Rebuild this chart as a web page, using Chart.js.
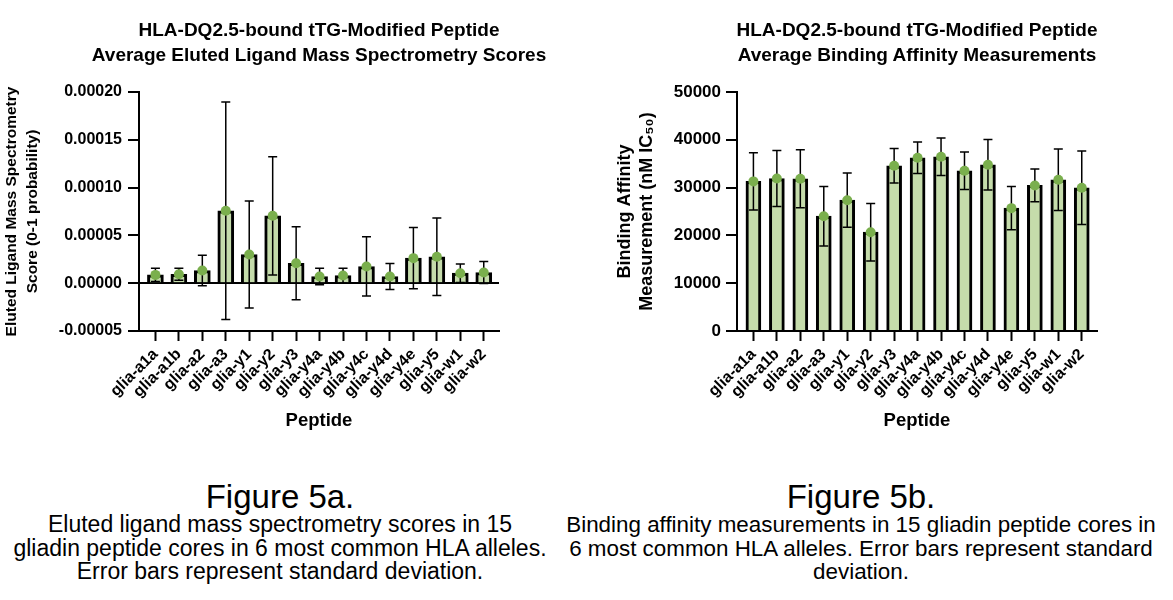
<!DOCTYPE html>
<html>
<head>
<meta charset="utf-8">
<script src="https://cdn.jsdelivr.net/npm/chart.js@4.4.1/dist/chart.umd.min.js"></script>
<style>
  body { margin: 0; background: #fff; overflow: hidden; }
  #wrap { position: relative; width: 1173px; height: 600px; overflow: hidden; font-family: 'Liberation Sans', Arial, sans-serif; color: #000; }
  canvas { position: absolute; top: 0; }
  .tit { position: absolute; top: 17px; width: 600px; text-align: center; font-size: 19px; font-weight: bold; line-height: 25px; white-space: nowrap; }
  .fig { position: absolute; top: 480px; text-align: center; font-size: 33px; line-height: 34px; white-space: nowrap; }
  .cap { position: absolute; top: 513px; text-align: center; line-height: 23.5px; white-space: nowrap; }
</style>
</head>
<body>
<div id="wrap">
  <canvas id="elmsChart" width="600" height="445" style="left:0"></canvas>
  <canvas id="baChart" width="573" height="445" style="left:600px"></canvas>
  <div class="tit" style="left:19px">HLA-DQ2.5-bound tTG-Modified Peptide<br>Average Eluted Ligand Mass Spectrometry Scores</div>
  <div class="tit" style="left:617px">HLA-DQ2.5-bound tTG-Modified Peptide<br>Average Binding Affinity Measurements</div>
  <div class="fig" style="left:0;width:560px">Figure 5a.</div>
  <div class="cap" style="left:0;width:560px;font-size:23px">Eluted ligand mass spectrometry scores in 15<br>gliadin peptide cores in 6 most common HLA alleles.<br>Error bars represent standard deviation.</div>
  <div class="fig" style="left:561px;width:600px">Figure 5b.</div>
  <div class="cap" style="left:561px;width:600px;font-size:22.4px">Binding affinity measurements in 15 gliadin peptide cores in<br>6 most common HLA alleles. Error bars represent standard<br>deviation.</div>
</div>
<script>
const PEPTIDOS = ['glia-a1a', 'glia-a1b', 'glia-a2', 'glia-a3', 'glia-y1', 'glia-y2', 'glia-y3',
  'glia-y4a', 'glia-y4b', 'glia-y4c', 'glia-y4d', 'glia-y4e', 'glia-y5', 'glia-w1', 'glia-w2'];

// Figure 5a: eluted ligand MS score (media y desviación estándar)
const ELMS_MEDIA = [0.0000087, 0.0000094, 0.0000133, 0.0000757, 0.0000300, 0.0000705, 0.0000209,
  0.0000070, 0.0000080, 0.0000175, 0.0000070, 0.0000262, 0.0000276, 0.0000105, 0.0000112];
const ELMS_DE = [0.0000070, 0.0000063, 0.0000160, 0.0001138, 0.0000559, 0.0000618, 0.0000381,
  0.0000087, 0.0000077, 0.0000310, 0.0000136, 0.0000321, 0.0000405, 0.0000097, 0.0000115];

// Figure 5b: binding affinity (nM IC50)
const BA_MEDIA = [31300, 31900, 31840, 24020, 27370, 20670, 34570,
  36240, 36450, 33520, 34780, 25700, 30450, 31630, 29960];
const BA_DE = [6000, 5870, 6080, 6220, 5660, 6010, 3630,
  3280, 3910, 3910, 5300, 4540, 3420, 6430, 7680];

const FUENTE = "'Liberation Sans', Arial, sans-serif";
const VERDE_BARRA = '#c5dcab';
const VERDE_PUNTO = '#7aaf4d';

// barras de error (media ± DE), dibujadas sobre las barras y bajo los puntos
const barrasError = {
  id: 'barrasError',
  afterDatasetDraw(chart, args, opts) {
    if (args.index !== 0) return;
    const ctx = chart.ctx;
    const y = chart.scales.y;
    ctx.save();
    ctx.strokeStyle = '#000';
    ctx.lineWidth = 1.5;
    args.meta.data.forEach((barra, i) => {
      const m = chart.data.datasets[0].data[i].y;
      const arriba = y.getPixelForValue(m + opts.de[i]);
      const abajo = y.getPixelForValue(m - opts.de[i]);
      const x = barra.x;
      ctx.beginPath();
      ctx.moveTo(x, arriba); ctx.lineTo(x, abajo);
      ctx.moveTo(x - 4.5, arriba); ctx.lineTo(x + 4.5, arriba);
      ctx.moveTo(x - 4.5, abajo); ctx.lineTo(x + 4.5, abajo);
      ctx.stroke();
    });
    ctx.restore();
  }
};

function generarConfiguracion(cfg) {
  const puntos = cfg.media.map((v, i) => ({ x: i, y: v }));
  return {
    type: 'bar',
    data: {
      datasets: [
        {
          data: puntos,
          backgroundColor: VERDE_BARRA,
          borderColor: '#000',
          borderWidth: 3,
          barThickness: cfg.grosor,
          order: 1
        },
        {
          type: 'line',
          data: puntos,
          showLine: false,
          pointRadius: 5,
          pointBackgroundColor: VERDE_PUNTO,
          pointBorderWidth: 0,
          order: 0
        }
      ]
    },
    options: {
      responsive: false,
      animation: false,
      layout: { padding: { top: 92, left: 0, right: cfg.derecha, bottom: 0 } },
      plugins: {
        legend: { display: false },
        tooltip: { enabled: false },
        barrasError: { de: cfg.de }
      },
      scales: {
        x: {
          type: 'linear',
          min: -0.7,
          max: 14.65,
          offset: false,
          afterBuildTicks: eje => { eje.ticks = PEPTIDOS.map((_, i) => ({ value: i })); },
          afterFit: eje => { eje.height = 114; },
          grid: { offset: false, drawOnChartArea: false, tickLength: 10, tickColor: '#000', tickWidth: 2 },
          border: { display: true, color: '#000', width: 2 },
          ticks: {
            autoSkip: false,
            minRotation: 45,
            maxRotation: 45,
            padding: 4,
            color: '#000',
            font: { family: FUENTE, size: 16, weight: 'bold' },
            callback: v => PEPTIDOS[v]
          },
          title: {
            display: true,
            text: 'Peptide',
            color: '#000',
            font: { family: FUENTE, size: 18.5, weight: 'bold' },
            padding: { top: 0, bottom: 13 }
          }
        },
        y: {
          min: cfg.yMin,
          max: cfg.yMax,
          afterFit: eje => { eje.width = cfg.anchoEje; },
          grid: {
            color: c => (Math.abs(c.tick.value) < 1e-12 ? '#000' : 'rgba(0,0,0,0)'),
            lineWidth: 2,
            tickLength: 11,
            tickColor: '#000',
            tickWidth: 2
          },
          border: { display: true, color: '#000', width: 2 },
          ticks: {
            stepSize: cfg.paso,
            padding: cfg.pad,
            color: '#000',
            font: { family: FUENTE, size: cfg.tamTick, weight: 'bold' },
            callback: cfg.formato
          },
          title: {
            display: true,
            text: cfg.tituloY,
            color: '#000',
            font: { family: FUENTE, size: cfg.tamTituloY, weight: 'bold', lineHeight: cfg.altoTituloY },
            padding: { top: cfg.padTituloY, bottom: 0 }
          }
        }
      }
    },
    plugins: [barrasError]
  };
}

new Chart(document.getElementById('elmsChart'), generarConfiguracion({
  media: ELMS_MEDIA,
  de: ELMS_DE,
  grosor: 16,
  derecha: 101,
  anchoEje: 139,
  tituloY: ['Eluted Ligand Mass Spectrometry', 'Score (0-1 probability)'],
  tamTituloY: 15.5,
  altoTituloY: 1.3,
  padTituloY: 2,
  yMin: -0.00005,
  yMax: 0.0002,
  paso: 0.00005,
  pad: 6,
  tamTick: 16,
  formato: v => v.toFixed(5)
}));

new Chart(document.getElementById('baChart'), generarConfiguracion({
  media: BA_MEDIA,
  de: BA_DE,
  grosor: 15,
  derecha: 76,
  anchoEje: 137,
  tituloY: ['Binding Affinity', 'Measurement (nM IC\u2085\u2080)'],
  tamTituloY: 18,
  altoTituloY: 1.22,
  padTituloY: 14,
  yMin: 0,
  yMax: 50000,
  paso: 10000,
  pad: 5,
  tamTick: 17,
  formato: v => String(v)
}));
</script>
</body>
</html>
